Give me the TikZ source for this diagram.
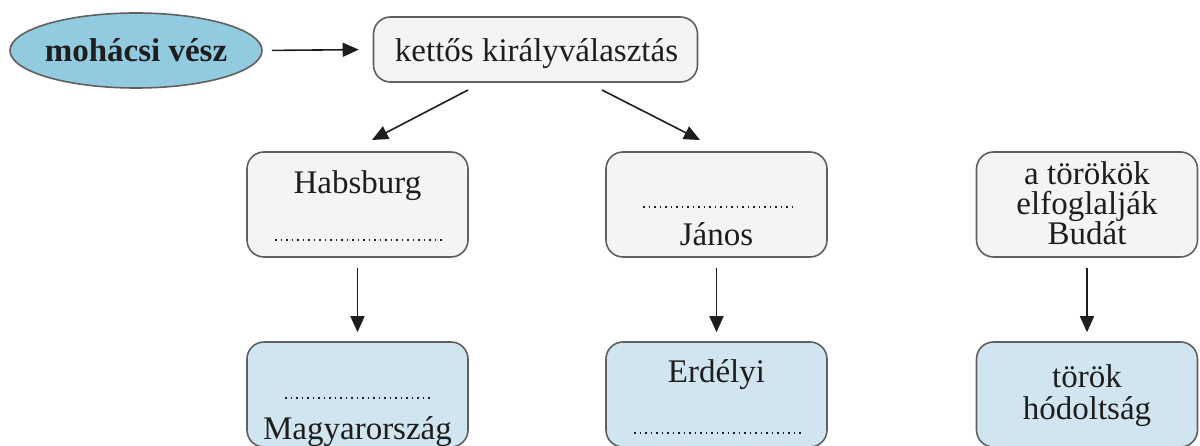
\documentclass[tikz,border=0pt]{standalone}
\usepackage{fontspec}
\setmainfont{Liberation Serif}
\usetikzlibrary{arrows.meta,shapes.geometric}
\definecolor{boxline}{RGB}{95,95,95}
\definecolor{grayfill}{RGB}{244,244,244}
\definecolor{bluefill}{RGB}{208,229,240}
\definecolor{ellfill}{RGB}{146,203,224}
\definecolor{txt}{RGB}{30,30,30}
\tikzset{
  box/.style={draw=boxline, line width=1.6pt, rounded corners=17pt, inner sep=0pt},
  graybox/.style={box, fill=grayfill},
  bluebox/.style={box, fill=bluefill},
  lbl/.style={text=txt, font=\fontsize{33}{36}\selectfont, anchor=base, inner sep=0pt},
  dotline/.style={draw=txt, line width=1.7pt, dash pattern=on 1.6pt off 3.9pt},
  arr/.style={draw=txt, line width=1.6pt, -{Triangle[length=16pt,width=14pt]}},
}
\begin{document}
\begin{tikzpicture}[x=1pt,y=-1pt]
\useasboundingbox (0,0) rectangle (1200,446);
% ellipse
\node (moh) [ellipse, draw=boxline, line width=1.6pt, fill=ellfill, minimum width=252pt, minimum height=75pt, inner sep=0pt] at (136,50.5) {};
\node[lbl, font=\fontsize{33}{36}\selectfont\bfseries] at (136,62) {mohácsi vész};
% top box
\node (ket) [graybox, minimum width=324pt, minimum height=65pt] at (535.5,49.5) {};
\node[lbl] at (536.5,62) {kettős királyválasztás};
% middle row
\node (hab) [graybox, minimum width=221pt, minimum height=105pt] at (357.5,204.5) {};
\node[lbl] at (357.5,194) {Habsburg};
\draw[dotline] (275,240) -- (443,240);
\node (jan) [graybox, minimum width=221pt, minimum height=105pt] at (716.5,204.5) {};
\draw[dotline] (643,207) -- (793,207);
\node[lbl] at (716.5,246) {János};
\node (tor) [graybox, minimum width=221pt, minimum height=105pt] at (1087,204.5) {};
\node[lbl] at (1087,185) {a törökök};
\node[lbl] at (1087,215) {elfoglalják};
\node[lbl] at (1087,245) {Budát};
% bottom row
\node (mag) [bluebox, minimum width=221pt, minimum height=105pt] at (357.5,394.5) {};
\draw[dotline] (285,398) -- (433,398);
\node[lbl] at (357.5,439) {Magyarország};
\node (erd) [bluebox, minimum width=221pt, minimum height=105pt] at (716.5,394.5) {};
\node[lbl] at (716.5,383) {Erdélyi};
\draw[dotline] (634,433) -- (802,433);
\node (hod) [bluebox, minimum width=221pt, minimum height=105pt] at (1087,394.5) {};
\node[lbl] at (1087,388) {török};
\node[lbl] at (1087,419) {hódoltság};
% connectors
\draw[arr, shorten <=9pt, shorten >=14pt] (moh.east) -- (ket.west);
\coordinate (k1) at (468,90);
\coordinate (h1) at (372,140);
\coordinate (k2) at (602,90);
\coordinate (j1) at (700,140);
\draw[arr] (k1) -- (h1);
\draw[arr] (k2) -- (j1);
\draw[arr, shorten <=10pt, shorten >=9pt] (hab.south) -- (mag.north);
\draw[arr, shorten <=10pt, shorten >=9pt] (jan.south) -- (erd.north);
\draw[arr, shorten <=10pt, shorten >=9pt] (tor.south) -- (hod.north);
\end{tikzpicture}
\end{document}
